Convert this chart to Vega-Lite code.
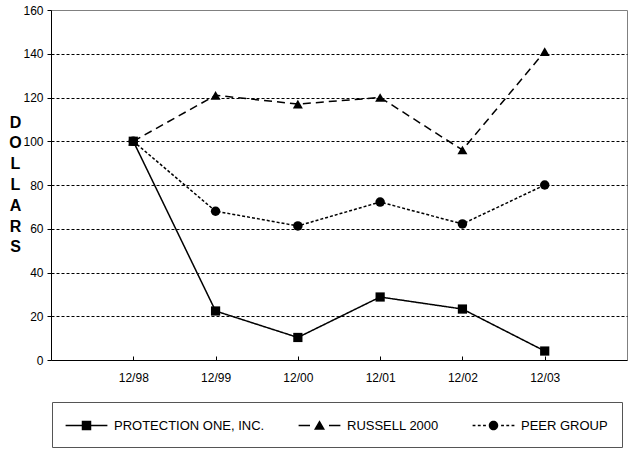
{
  "$schema": "https://vega.github.io/schema/vega-lite/v6.json",
  "width": 576,
  "height": 350,
  "autosize": "none",
  "padding": {"left": 51, "top": 10, "right": 1, "bottom": 92},
  "background": "white",
  "config": {
    "view": {"stroke": "#808080", "strokeWidth": 1},
    "font": "Liberation Sans",
    "legend": {
      "title": null,
      "orient": "none",
      "legendX": 1,
      "legendY": 392,
      "direction": "horizontal",
      "columns": 3,
      "gridAlign": "none",
      "columnPadding": 33,
      "padding": 14,
      "strokeColor": "#555555",
      "labelFont": "Liberation Sans",
      "labelFontSize": 13,
      "labelColor": "black",
      "labelOffset": 18,
      "symbolOffset": 11,
      "symbolSize": 361,
      "symbolStrokeWidth": 0,
      "symbolFillColor": "black",
      "symbolStrokeColor": "black",
      "symbolOpacity": 1
    }
  },
  "data": {
    "values": [
      {"date": "12/98", "series": "PROTECTION ONE, INC.", "value": 100},
      {"date": "12/99", "series": "PROTECTION ONE, INC.", "value": 22.4},
      {"date": "12/00", "series": "PROTECTION ONE, INC.", "value": 10.3},
      {"date": "12/01", "series": "PROTECTION ONE, INC.", "value": 28.8},
      {"date": "12/02", "series": "PROTECTION ONE, INC.", "value": 23.3},
      {"date": "12/03", "series": "PROTECTION ONE, INC.", "value": 4.1},
      {"date": "12/98", "series": "RUSSELL 2000", "value": 100},
      {"date": "12/99", "series": "RUSSELL 2000", "value": 121},
      {"date": "12/00", "series": "RUSSELL 2000", "value": 117},
      {"date": "12/01", "series": "RUSSELL 2000", "value": 120},
      {"date": "12/02", "series": "RUSSELL 2000", "value": 96},
      {"date": "12/03", "series": "RUSSELL 2000", "value": 141},
      {"date": "12/98", "series": "PEER GROUP", "value": 100},
      {"date": "12/99", "series": "PEER GROUP", "value": 68},
      {"date": "12/00", "series": "PEER GROUP", "value": 61.3},
      {"date": "12/01", "series": "PEER GROUP", "value": 72.2},
      {"date": "12/02", "series": "PEER GROUP", "value": 62.2},
      {"date": "12/03", "series": "PEER GROUP", "value": 80}
    ]
  },
  "encoding": {
    "x": {
      "field": "date",
      "type": "ordinal",
      "sort": ["12/98", "12/99", "12/00", "12/01", "12/02", "12/03"],
      "scale": {"type": "point", "padding": 1},
      "axis": {
        "title": null,
        "labelAngle": 0,
        "labelFontSize": 12,
        "labelColor": "black",
        "tickSize": -4,
        "tickColor": "black",
        "labelPadding": 16,
        "domainColor": "black",
        "domainWidth": 1,
        "grid": false
      }
    },
    "y": {
      "field": "value",
      "type": "quantitative",
      "scale": {"domain": [0, 160], "nice": false},
      "axis": {
        "values": [0, 20, 40, 60, 80, 100, 120, 140, 160],
        "title": ["D", "O", "L", "L", "A", "R", "S"],
        "titleAngle": 0,
        "titleFontSize": 16,
        "titleFontWeight": "bold",
        "titleColor": "black",
        "titleLineHeight": 20.8,
        "titleX": -36,
        "titleY": 112,
        "titleAlign": "center",
        "titleBaseline": "middle",
        "labelFontSize": 12,
        "labelColor": "black",
        "tickColor": "black",
        "tickSize": 4,
        "labelPadding": 4,
        "domainColor": "black",
        "domainWidth": 1,
        "grid": true,
        "gridColor": "black",
        "gridDash": [3, 2],
        "gridWidth": 1,
        "gridOpacity": {"condition": {"test": "datum.value >= 160 || datum.value <= 0", "value": 0}, "value": 1}
      }
    }
  },
  "layer": [
    {
      "mark": {"type": "line", "color": "black", "strokeWidth": 1.5},
      "encoding": {
        "strokeDash": {
          "field": "series",
          "type": "nominal",
          "scale": {"domain": ["PROTECTION ONE, INC.", "RUSSELL 2000", "PEER GROUP"], "range": [[1, 0], [8, 5], [3, 2]]}
        }
      }
    },
    {
      "transform": [{"filter": "datum.series === 'PROTECTION ONE, INC.'"}],
      "mark": {"type": "point", "shape": "square", "filled": true, "color": "black", "opacity": 1, "size": 85}
    },
    {
      "transform": [{"filter": "datum.series === 'RUSSELL 2000'"}],
      "mark": {"type": "point", "shape": "triangle-up", "filled": true, "color": "black", "opacity": 1, "size": 100}
    },
    {
      "transform": [{"filter": "datum.series === 'PEER GROUP'"}],
      "mark": {"type": "point", "shape": "circle", "filled": true, "color": "black", "opacity": 1, "size": 90}
    },
    {
      "mark": {"type": "point", "filled": true, "color": "black", "strokeWidth": 0, "opacity": 0, "size": 90},
      "encoding": {
        "shape": {
          "field": "series",
          "type": "nominal",
          "scale": {
            "domain": ["PROTECTION ONE, INC.", "RUSSELL 2000", "PEER GROUP"],
            "range": [
              "M-2.2,-0.08H2.2V0.08H-2.2ZM-0.5,-0.5H0.5V0.5H-0.5Z",
              "M-2.2,-0.08H-1V0.08H-2.2ZM1,-0.08H2.2V0.08H1ZM0,-0.55L0.58,0.45L-0.58,0.45Z",
              "M-2.2,-0.08H-1.9V0.08H-2.2ZM-1.65,-0.08H-1.35V0.08H-1.65ZM-1.1,-0.08H-0.8V0.08H-1.1ZM0.8,-0.08H1.1V0.08H0.8ZM1.35,-0.08H1.65V0.08H1.35ZM1.9,-0.08H2.2V0.08H1.9ZM0.5,0A0.5,0.5,0,1,1,-0.5,0A0.5,0.5,0,1,1,0.5,0Z"
            ]
          }
        }
      }
    }
  ]
}
